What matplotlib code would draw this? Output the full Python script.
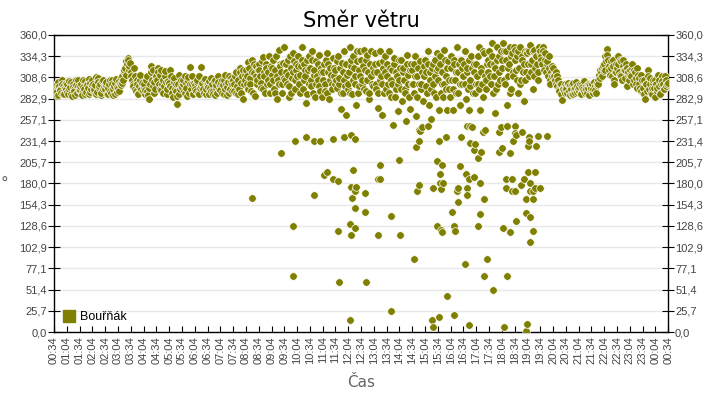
import numpy as np
import matplotlib
matplotlib.use("Agg")
import matplotlib.pyplot as plt
from matplotlib.lines import Line2D

# Směr větru - Bouřňák, 00:34 .. 00:34 next day
start_label = "00:34"
series_name = "Bouřňák"
point_color = "#808000"

# main band: one row per 30 min slot, one value every 3 min
band_values = [
    [296, 290, 301, 287, 298, 293, 305, 289, 299, 294],
    [300, 288, 295, 303, 286, 297, 292, 306, 290, 298],
    [293, 301, 287, 297, 304, 291, 299, 289, 302, 295],
    [305, 292, 299, 288, 308, 296, 301, 290, 306, 297],
    [294, 303, 289, 300, 292, 306, 287, 298, 302, 291],
    [296, 304, 299, 310, 305, 318, 312, 325, 330, 322],
    [315, 305, 298, 310, 292, 300, 288, 306, 295, 302],
    [297, 289, 305, 292, 282, 300, 322, 318, 303, 295],
    [310, 320, 300, 312, 293, 306, 298, 316, 289, 304],
    [302, 318, 296, 285, 308, 292, 276, 300, 288, 305],
    [297, 306, 290, 302, 286, 309, 321, 294, 300, 288],
    [299, 292, 305, 288, 296, 321, 302, 290, 307, 294],
    [301, 289, 296, 308, 292, 304, 287, 299, 310, 295],
    [293, 306, 299, 288, 311, 297, 303, 290, 308, 300],
    [305, 292, 315, 298, 288, 320, 302, 310, 283, 312],
    [318, 300, 327, 308, 292, 330, 314, 286, 322, 305],
    [325, 310, 296, 333, 315, 290, 320, 305, 335, 300],
    [312, 330, 295, 318, 282, 306, 342, 322, 300, 326],
    [345, 315, 300, 330, 285, 320, 308, 338, 295, 325],
    [310, 335, 290, 322, 345, 305, 318, 278, 330, 300],
    [320, 298, 340, 312, 285, 328, 305, 336, 292, 315],
    [305, 325, 292, 338, 315, 282, 320, 300, 332, 310],
    [318, 296, 335, 308, 270, 326, 290, 340, 263, 312],
    [300, 345, 322, 288, 335, 310, 275, 328, 298, 340],
    [330, 305, 342, 318, 292, 336, 282, 325, 310, 298],
    [315, 338, 295, 272, 326, 305, 263, 320, 290, 335],
    [325, 300, 340, 285, 318, 251, 332, 295, 310, 268],
    [305, 330, 280, 320, 295, 256, 336, 312, 270, 325],
    [318, 290, 335, 262, 310, 245, 328, 300, 249, 322],
    [330, 298, 340, 275, 315, 258, 325, 290, 310, 338],
    [320, 269, 335, 300, 285, 342, 310, 269, 328, 295],
    [335, 305, 269, 325, 290, 345, 315, 275, 330, 300],
    [310, 340, 282, 320, 269, 298, 335, 249, 315, 290],
    [325, 300, 345, 269, 315, 285, 338, 245, 305, 330],
    [340, 310, 350, 290, 325, 265, 345, 300, 335, 249],
    [330, 350, 305, 340, 275, 320, 345, 295, 338, 310],
    [342, 318, 335, 290, 345, 305, 330, 280, 340, 315],
    [338, 310, 348, 325, 295, 342, 320, 335, 305, 345],
    [340, 330, 345, 318, 338, 325, 310, 335, 300, 322],
    [320, 310, 315, 298, 305, 292, 300, 281, 295, 290],
    [298, 290, 302, 287, 295, 300, 289, 296, 303, 291],
    [292, 300, 288, 297, 304, 290, 295, 301, 287, 299],
    [296, 290, 303, 293, 299, 305, 312, 318, 310, 322],
    [325, 335, 343, 330, 318, 328, 310, 322, 300, 315],
    [320, 335, 312, 328, 305, 330, 318, 325, 298, 315],
    [318, 310, 325, 305, 315, 300, 320, 308, 296, 312],
    [290, 305, 283, 300, 318, 295, 308, 288, 302, 296],
    [305, 292, 312, 298, 288, 310, 300, 295, 306, 300],
]

# the readings in between (1.5 min after each of the above)
band_values_b = [
    [292, 299, 286, 303, 295, 290, 300, 288, 296, 302],
    [291, 304, 297, 289, 301, 294, 287, 299, 305, 293],
    [298, 290, 305, 294, 288, 300, 296, 307, 291, 299],
    [300, 294, 309, 291, 303, 298, 287, 304, 295, 301],
    [299, 288, 296, 305, 290, 301, 295, 289, 307, 297],
    [292, 300, 308, 302, 315, 320, 328, 332, 318, 326],
    [310, 300, 320, 295, 305, 290, 298, 312, 300, 292],
    [301, 293, 310, 287, 296, 315, 306, 298, 290, 308],
    [305, 315, 295, 318, 300, 290, 310, 303, 295, 300],
    [298, 310, 290, 303, 295, 300, 286, 312, 294, 298],
    [301, 292, 310, 296, 304, 290, 300, 310, 288, 302],
    [295, 303, 290, 310, 298, 300, 294, 306, 288, 301],
    [297, 304, 292, 300, 288, 305, 296, 290, 303, 299],
    [302, 290, 305, 295, 300, 287, 310, 295, 303, 292],
    [300, 310, 290, 305, 295, 315, 290, 318, 300, 306],
    [310, 295, 320, 300, 315, 290, 325, 310, 300, 318],
    [318, 302, 328, 295, 310, 325, 300, 315, 290, 322],
    [320, 305, 290, 335, 310, 300, 325, 315, 290, 308],
    [305, 325, 312, 298, 335, 290, 315, 328, 305, 318],
    [322, 300, 312, 330, 295, 325, 310, 288, 318, 335],
    [305, 330, 290, 318, 300, 310, 325, 298, 320, 285],
    [315, 300, 330, 290, 325, 305, 312, 295, 320, 300],
    [305, 328, 300, 320, 290, 315, 305, 298, 325, 295],
    [315, 290, 330, 305, 320, 300, 340, 290, 318, 310],
    [300, 322, 295, 330, 305, 315, 290, 340, 300, 320],
    [325, 300, 315, 290, 340, 310, 300, 328, 315, 295],
    [310, 290, 320, 305, 300, 325, 285, 315, 300, 330],
    [320, 295, 315, 305, 290, 325, 300, 285, 318, 300],
    [300, 325, 310, 285, 320, 300, 295, 315, 280, 310],
    [315, 290, 325, 305, 295, 320, 300, 330, 285, 318],
    [305, 325, 290, 315, 300, 330, 295, 320, 305, 285],
    [320, 295, 330, 305, 315, 290, 325, 300, 320, 310],
    [325, 300, 315, 295, 330, 305, 320, 290, 325, 300],
    [310, 335, 295, 320, 300, 340, 310, 295, 325, 315],
    [325, 300, 335, 310, 320, 295, 330, 315, 305, 340],
    [320, 340, 300, 330, 310, 325, 290, 335, 315, 345],
    [330, 305, 340, 320, 300, 335, 315, 325, 305, 340],
    [325, 340, 315, 330, 340, 310, 335, 325, 315, 338],
    [335, 325, 340, 330, 315, 328, 320, 305, 315, 310],
    [312, 305, 300, 310, 295, 300, 288, 296, 292, 300],
    [294, 300, 292, 299, 288, 302, 294, 290, 298, 295],
    [297, 290, 300, 294, 292, 298, 290, 296, 300, 293],
    [300, 294, 298, 290, 302, 300, 308, 315, 320, 316],
    [318, 328, 336, 322, 312, 320, 330, 305, 315, 325],
    [325, 315, 330, 310, 322, 318, 308, 320, 312, 305],
    [312, 320, 300, 318, 308, 296, 312, 300, 292, 305],
    [296, 288, 300, 292, 310, 300, 290, 296, 305, 285],
    [300, 296, 305, 290, 300, 304, 295, 310, 298, 302],
]

# scattered readings below the band (storm hours)
outlier_times = [
    "08:19", "09:27", "09:55", "09:55", "09:59", "10:25", "10:43", "10:43",
    "10:58", "11:07", "11:13", "11:28", "11:28", "11:40", "11:40", "11:43",
    "11:55", "12:10", "12:11", "12:10", "12:19", "12:19", "12:19", "12:19",
    "12:22", "12:16", "12:13", "12:07", "12:08", "12:43", "12:43", "12:46",
    "13:13", "13:13", "13:19", "13:19", "13:44", "13:44", "14:04", "14:05",
    "14:37", "14:43", "14:49", "14:49", "14:46", "14:52", "15:10", "15:22",
    "15:22", "15:20", "15:37", "15:37", "15:55", "16:13", "16:13", "16:46",
    "16:46", "16:43", "15:32", "15:43", "15:43", "15:41", "15:41", "15:31",
    "15:40", "15:40", "15:46", "15:52", "16:28", "16:25", "16:50", "17:19",
    "16:49", "17:01", "16:58", "16:58", "17:16", "17:07", "16:40", "17:13",
    "17:13", "16:22", "16:22", "16:19", "16:43", "16:43", "17:22", "17:22",
    "16:07", "16:14", "17:08", "16:37", "17:29", "18:16", "18:16", "17:43",
    "18:10", "19:04", "19:01", "19:01", "19:01", "17:58", "17:58", "18:34",
    "18:52", "18:31", "18:34", "18:37", "18:37", "18:04", "18:22", "18:22",
    "19:07", "19:07", "19:28", "19:49", "19:05", "19:05", "19:25", "18:13",
    "18:13", "18:28", "18:28", "18:55", "19:22", "18:34", "18:49", "19:10",
    "19:10", "19:10", "19:10", "19:16", "19:16", "19:16", "19:22", "19:34",
    "18:07",
]
outlier_values = [
    163, 217, 129, 68, 231, 236, 232, 166,
    231, 190, 194, 234, 186, 183, 123, 61,
    236, 239, 176, 118, 234, 171, 150, 126,
    176, 196, 163, 131, 15, 169, 146, 61,
    118, 186, 186, 203, 141, 26, 209, 118,
    89, 224, 232, 178, 171, 244, 250, 175,
    6, 15, 18, 232, 44, 21, 128, 8,
    186, 250, 128, 121, 203, 124, 173, 207,
    191, 181, 180, 236, 236, 201, 250, 243,
    229, 228, 221, 188, 218, 211, 191, 181,
    143, 175, 158, 171, 175, 166, 161, 68,
    146, 122, 128, 83, 89, 68, 250, 51,
    6, 10, 1, 161, 144, 243, 218, 250,
    243, 231, 241, 239, 135, 223, 217, 121,
    236, 231, 238, 238, 226, 194, 225, 186,
    175, 186, 171, 186, 194, 171, 178, 180,
    171, 139, 109, 171, 161, 123, 175, 175,
    126,
]

y_max = 360.0
y_steps = 14


def minutes_from_start(label):
    h, m = label.split(":")
    sh, sm = start_label.split(":")
    return (int(h) * 60 + int(m) - int(sh) * 60 - int(sm)) % 1440


# x positions of the band (minutes after 00:34)
band_x = []
band_y = []
for rows, shift in ((band_values, 0.0), (band_values_b, 1.5)):
    for slot, row in enumerate(rows):
        for k, v in enumerate(row):
            band_x.append(slot * 30 + k * 3 + shift)
            band_y.append(v)

out_x = [minutes_from_start(t) for t in outlier_times]

all_x = np.array(band_x + out_x)
all_y = np.array(band_y + outlier_values)
order = np.argsort(all_x, kind="stable")

fig = plt.figure(figsize=(7.2, 4.0), dpi=100)
ax = fig.add_axes([0.075, 0.17, 0.853, 0.7425])

ax.scatter(all_x[order], all_y[order], s=30, c=point_color,
           edgecolors="white", linewidths=0.5, zorder=3)

# axes
ax.set_xlim(0, 1440)
ax.set_ylim(0, y_max)
yt = np.linspace(0, y_max, y_steps + 1)
ax.set_yticks(yt)
ax.set_yticklabels([f"{v:.1f}".replace(".", ",") for v in yt])
ax.yaxis.grid(True, color="#e8e8e8", linewidth=1, zorder=0)
ax.set_axisbelow(True)

xt = np.arange(0, 1441, 30)
start_min = (1440 - minutes_from_start("00:00")) % 1440
xlabels = []
for m in xt:
    total = (m + start_min) % 1440
    xlabels.append(f"{total // 60:02d}:{total % 60:02d}")
ax.set_xticks(xt)
ax.set_xticklabels(xlabels, rotation=90)

tick_font = "Liberation Sans"
ax.tick_params(axis="y", which="both", left=True, right=True,
               labelleft=True, labelright=True, direction="inout",
               length=8, pad=1, labelsize=8, labelcolor="#444444")
ax.tick_params(axis="x", direction="in", length=4, pad=3, labelsize=8,
               labelcolor="#444444")
for lab in ax.get_xticklabels() + ax.get_yticklabels():
    lab.set_fontfamily(tick_font)
for t in ax.yaxis.get_major_ticks():
    t.label2.set_fontfamily(tick_font)
for sp in ax.spines.values():
    sp.set_color("black")
    sp.set_linewidth(1)

ax.set_title("Směr větru", fontsize=15, pad=6)
ax.set_xlabel("Čas", fontsize=11, color="#666666", labelpad=8)
ax.set_ylabel("°", fontsize=11, color="#666666", rotation=0,
              ha="center", va="center")
ax.yaxis.set_label_coords(-0.081, 0.5)

handle = Line2D([], [], marker="s", linestyle="none", markersize=9,
                markerfacecolor=point_color, markeredgecolor=point_color)
ax.legend([handle], [series_name], loc="lower left", frameon=False,
          prop={"family": tick_font, "size": 9}, handletextpad=0.4,
          borderaxespad=0.3, handlelength=1.0)

fig.savefig("out.png", dpi=100)
